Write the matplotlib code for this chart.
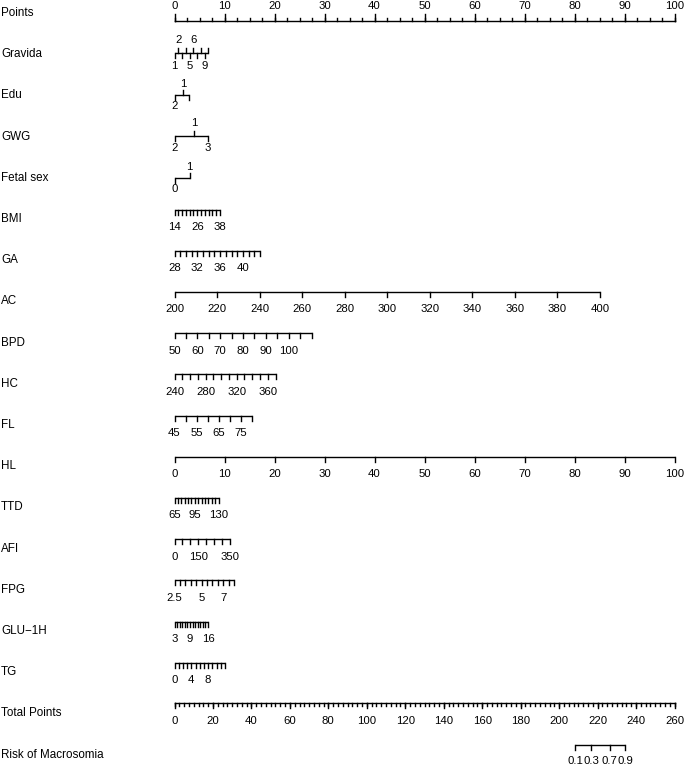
import numpy as np
import matplotlib
matplotlib.use("Agg")
import matplotlib.pyplot as plt

plt.rcParams['font.family'] = ['Liberation Sans', 'DejaVu Sans']

# nomogram rows, top to bottom
row_names = ["Points", "Gravida", "Edu", "GWG", "Fetal sex", "BMI", "GA", "AC",
             "BPD", "HC", "FL", "HL", "TTD", "AFI", "FPG", "GLU\u22121H", "TG",
             "Total Points", "Risk of Macrosomia"]

# Points scale
points_major = [0, 10, 20, 30, 40, 50, 60, 70, 80, 90, 100]
points_minor_step = 2.5

# categorical predictors: level labels and their points
gravida_values = [1, 2, 3, 4, 5, 6, 7, 8, 9, 10]
gravida_labels = ["1", "2", "", "", "5", "6", "", "", "9", ""]
gravida_max_pts = 6.75

edu_labels = ["2", "1", ""]
edu_pts = [0, 1.7, 2.8]
edu_side = ["down", "up", "down"]

gwg_labels = ["2", "1", "3"]
gwg_pts = [0, 3.9, 6.7]
gwg_side = ["down", "up", "down"]

sex_labels = ["0", "1"]
sex_pts = [0, 3.0]
sex_side = ["down", "up"]

# continuous predictors: tick values, shown labels, points at the last tick
bmi_values = [14, 16, 18, 20, 22, 24, 26, 28, 30, 32, 34, 36, 38]
bmi_shown = [14, 26, 38]
bmi_max_pts = 9.1

ga_values = [28, 29, 30, 31, 32, 33, 34, 35, 36, 37, 38, 39, 40, 41, 42, 43]
ga_shown = [28, 32, 36, 40]
ga_max_pts = 17.1

ac_values = [200, 220, 240, 260, 280, 300, 320, 340, 360, 380, 400]
ac_shown = ac_values
ac_max_pts = 85.1

bpd_values = [50, 55, 60, 65, 70, 75, 80, 85, 90, 95, 100, 105, 110]
bpd_shown = [50, 60, 70, 80, 90, 100]
bpd_max_pts = 27.4

hc_values = [240, 250, 260, 270, 280, 290, 300, 310, 320, 330, 340, 350, 360, 370]
hc_shown = [240, 280, 320, 360]
hc_max_pts = 20.2

fl_values = [45, 50, 55, 60, 65, 70, 75, 80]
fl_shown = [45, 55, 65, 75]
fl_max_pts = 15.4

hl_values = [0, 10, 20, 30, 40, 50, 60, 70, 80, 90, 100]
hl_shown = hl_values
hl_max_pts = 100

ttd_values = [65, 70, 75, 80, 85, 90, 95, 100, 105, 110, 115, 120, 125, 130]
ttd_shown = [65, 95, 130]
ttd_max_pts = 8.8

afi_values = [0, 50, 100, 150, 200, 250, 300, 350]
afi_shown = [0, 150, 350]
afi_max_pts = 11.1

fpg_values = [2.5, 3, 3.5, 4, 4.5, 5, 5.5, 6, 6.5, 7, 7.5, 8]
fpg_shown = [2.5, 5, 7]
fpg_max_pts = 11.9

glu_values = [3, 4, 5, 6, 7, 8, 9, 10, 11, 12, 13, 14, 15, 16]
glu_shown = [3, 9, 16]
glu_max_pts = 6.7

tg_values = [0, 1, 2, 3, 4, 5, 6, 7, 8, 9, 10, 11, 12]
tg_shown = [0, 4, 8]
tg_max_pts = 10.1

# total points and risk
total_major = [0, 20, 40, 60, 80, 100, 120, 140, 160, 180, 200, 220, 240, 260]
total_minor_step = 2.5
total_max = 260
risk_labels = ["0.1", "0.3", "0.7", "0.9"]
risk_total_pts = [208.5, 216.8, 226.2, 234.5]

# layout (pixels)
W, H = 685, 767
px0, px_per_pt = 174.5, 5.0
row_y0, row_dy = 13, 41.2
name_fs, tick_fs = 8.4, 8.2
lw = 1.0
tick_len = 5

fig = plt.figure(figsize=(W / 100, H / 100), dpi=100)
ax = fig.add_axes([0, 0, 1, 1])
ax.set_xlim(-px0 / px_per_pt, (W - px0) / px_per_pt)
ax.set_ylim(H, 0)
ax.axis('off')

row_y = [row_y0 + row_dy * i for i in range(len(row_names))]
for name, y in zip(row_names, row_y):
    ax.text(-px0 / px_per_pt + 0.2, y, name, ha='left', va='center', fontsize=name_fs)


def fmt(v):
    return f"{v:g}"


def draw_scale(y, pts, labels, sides, lab_off=12):
    ax.plot([min(pts), max(pts)], [y, y], color='black', lw=lw, solid_capstyle='butt')
    for p, lab, s in zip(pts, labels, sides):
        d = 1 if s == "down" else -1
        ax.plot([p, p], [y, y + d * tick_len], color='black', lw=lw)
        if lab:
            ax.text(p, y + d * lab_off, lab, ha='center', va='center', fontsize=tick_fs)


def draw_continuous(i, values, shown, max_pts):
    y = row_y[i] - 9.5
    v = np.array(values, dtype=float)
    pts = (v - v[0]) / (v[-1] - v[0]) * max_pts
    labels = [fmt(x) if x in shown else "" for x in values]
    draw_scale(y, pts, labels, ["down"] * len(values), lab_off=17.5)


# Points axis
y = row_y[0] + 8
ax.plot([0, 100], [y, y], color='black', lw=lw)
for p in np.arange(0, 100 + 0.01, points_minor_step):
    ax.plot([p, p], [y, y - 3], color='black', lw=lw)
for p in points_major:
    ax.plot([p, p], [y, y - 7], color='black', lw=lw)
    ax.text(p, row_y[0] - 7, str(p), ha='center', va='center', fontsize=tick_fs)

# Gravida (alternating labels)
gv = np.array(gravida_values, dtype=float)
gpts = (gv - gv[0]) / (gv[-1] - gv[0]) * gravida_max_pts
gside = ["down" if v % 2 else "up" for v in gravida_values]
draw_scale(row_y[1] - 1, gpts, gravida_labels, gside, lab_off=13)

draw_scale(row_y[2], edu_pts, edu_labels, edu_side, lab_off=11)
draw_scale(row_y[3] - 1, gwg_pts, gwg_labels, gwg_side, lab_off=12.5)
draw_scale(row_y[4], sex_pts, sex_labels, sex_side, lab_off=11)

cont = [(bmi_values, bmi_shown, bmi_max_pts), (ga_values, ga_shown, ga_max_pts),
        (ac_values, ac_shown, ac_max_pts), (bpd_values, bpd_shown, bpd_max_pts),
        (hc_values, hc_shown, hc_max_pts), (fl_values, fl_shown, fl_max_pts),
        (hl_values, hl_shown, hl_max_pts), (ttd_values, ttd_shown, ttd_max_pts),
        (afi_values, afi_shown, afi_max_pts), (fpg_values, fpg_shown, fpg_max_pts),
        (glu_values, glu_shown, glu_max_pts), (tg_values, tg_shown, tg_max_pts)]
for k, (vals, shown, mp) in enumerate(cont):
    draw_continuous(5 + k, vals, shown, mp)

# Total Points axis
scale = 100 / total_max
y = row_y[17] - 10
ax.plot([0, 100], [y, y], color='black', lw=lw)
for t in np.arange(0, total_max + 0.01, total_minor_step):
    ax.plot([t * scale] * 2, [y, y + 3], color='black', lw=lw)
for t in total_major:
    ax.plot([t * scale] * 2, [y, y + 5], color='black', lw=lw)
    ax.text(t * scale, row_y[17] + 8, str(t), ha='center', va='center', fontsize=tick_fs)

# Risk axis
rpts = [t * scale for t in risk_total_pts]
y = row_y[18] - 10
draw_scale(y, rpts, risk_labels, ["down"] * len(rpts), lab_off=16)

fig.savefig("out.png", dpi=100)
